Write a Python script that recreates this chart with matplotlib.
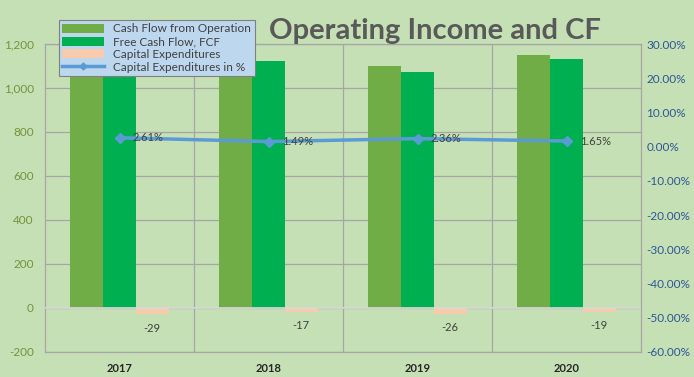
import matplotlib
matplotlib.use("Agg")
import matplotlib.pyplot as plt
import numpy as np
from matplotlib.ticker import FuncFormatter, MultipleLocator

years = ["2017", "2018", "2019", "2020"]
cfo = [1111, 1141, 1100, 1150]
fcf = [1082, 1124, 1074, 1131]
capex = [-29, -17, -26, -19]
capex_pct = [2.61, 1.49, 2.36, 1.65]

plt.rcParams['font.family'] = ['Lato', 'DejaVu Sans']
bg = '#C5E0B4'
fig = plt.figure(figsize=(6.94, 3.77), dpi=100, facecolor=bg)
ax = fig.add_axes([45/694, 1-352/377, (641-45)/694, (352-44)/377])
ax.set_facecolor(bg)
x = np.arange(len(years))
w = 0.22
b1 = ax.bar(x - w, cfo, w, color='#70AD47', label='Cash Flow from Operation', zorder=3)
b2 = ax.bar(x, fcf, w, color='#00B050', label='Free Cash Flow, FCF', zorder=3)
b3 = ax.bar(x + w, capex, w, color='#F8CBAD', label='Capital Expenditures', zorder=3)
for xi, v in zip(x, capex):
    ax.text(xi + w, v - 62, f"{v}", ha='center', va='center', fontsize=8, color='#404040')
ax.set_xlim(-0.5, 3.5)
ax.set_ylim(-200, 1200)
ax.yaxis.set_major_locator(MultipleLocator(200))
ax.yaxis.set_major_formatter(FuncFormatter(lambda v, p: f"{int(v):,}"))
ax.grid(axis='y', color='#A6A6A6', lw=0.9, zorder=1)
for xb in [0.5, 1.5, 2.5]:
    ax.axvline(xb, color='#A6A6A6', lw=0.9, zorder=1)
ax.axhline(0, color='#D9D9D9', lw=1.2, zorder=4)
for s in ax.spines.values():
    s.set_color('#A6A6A6')
    s.set_linewidth(0.9)
ax.set_xticks(x)
ax.set_xticklabels(years, fontsize=8, fontweight='bold', color='#262626')
ax.tick_params(axis='x', length=0, pad=8)
ax.tick_params(axis='y', length=0, labelsize=8.5, labelcolor='#76923C', pad=8)

ax2 = ax.twinx()
ln, = ax2.plot(x, capex_pct, color='#5B9BD5', lw=2.5, marker='D', ms=5,
               label='Capital Expenditures in %', zorder=5)
for xi, v in zip(x, capex_pct):
    ax2.text(xi + 0.09, v, f"{v:.2f}%", ha='left', va='center', fontsize=8,
             color='#404040', zorder=6)
ax2.set_ylim(-60, 30)
ax2.yaxis.set_major_locator(MultipleLocator(10))
ax2.yaxis.set_major_formatter(FuncFormatter(lambda v, p: f"{v:.2f}%"))
ax2.tick_params(axis='y', length=0, labelsize=8.5, labelcolor='#2F5597', pad=4)
for s in ax2.spines.values():
    s.set_visible(False)

fig.text(435/694, 1-31/377, "Operating Income and CF", ha='center', va='center',
         fontsize=21, fontweight='bold', color='#595959')

leg = fig.legend(handles=[b1, b2, b3, ln], loc='upper left',
                 bbox_to_anchor=(53/694, 1-14/377), fontsize=8.5, frameon=True,
                 fancybox=False, facecolor='#BDD7EE', edgecolor='#808080',
                 handlelength=3.5, handleheight=0.8, labelspacing=0.15,
                 borderpad=0.3, framealpha=1, markerscale=0.7)
leg.get_frame().set_linewidth(0.8)
for t in leg.get_texts():
    t.set_color('#404040')
fig.savefig('out.png', dpi=100, facecolor=bg)
